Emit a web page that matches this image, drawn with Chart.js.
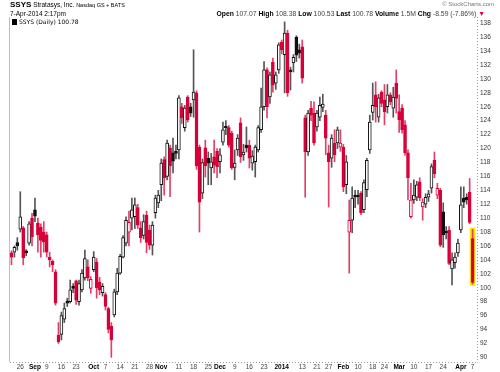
<!DOCTYPE html>
<html>
<head>
<meta charset="utf-8">
<script src="https://cdn.jsdelivr.net/npm/chart.js@4.4.0/dist/chart.umd.min.js"></script>
<style>
  body { margin: 0; background: #fff; }
  #wrap { position: relative; width: 500px; height: 372px; font-family: "Liberation Sans", Arial, sans-serif; }
  #wrap canvas { position: absolute; left: 0; top: 0; }
  .t { position: absolute; white-space: nowrap; color: #000; line-height: 1; }
</style>
</head>
<body>
<div id="wrap">
  <canvas id="chart" width="500" height="372"></canvas>
  <div class="t" style="left:10px;top:1px;font-size:6.5px"><b style="font-size:8px">SSYS</b> Stratasys, Inc. <span style="font-size:5.5px">Nasdaq GS + BATS</span></div>
  <div class="t" style="left:10px;top:11px;font-size:6.5px">7-Apr-2014 2:17pm</div>
  <div class="t" style="right:6px;top:1px;font-size:6px;color:#777">&copy; StockCharts.com</div>
  <div class="t" style="right:15px;top:11px;font-size:6.8px;color:#444"><b style="color:#000">Open</b> 107.07 <b style="color:#000">High</b> 108.38 <b style="color:#000">Low</b> 100.53 <b style="color:#000">Last</b> 100.78 <b style="color:#000">Volume</b> 1.5M <b style="color:#000">Chg</b> -8.59 (-7.86%) <span style="color:#d8003a">&#9660;</span></div>
  <div class="t" style="left:12px;top:19px;font-size:6px;font-family:'DejaVu Sans',sans-serif"><span style="display:inline-block;width:3px;height:4px;border:1px solid #000;background:#000;vertical-align:-1px"></span> SSYS (Daily) 100.78</div>
</div>
<script>
// trading days shown on the chart
const dates = [
  '2013-08-21','2013-08-22','2013-08-23','2013-08-26','2013-08-27','2013-08-28','2013-08-29','2013-08-30',
  '2013-09-03','2013-09-04','2013-09-05','2013-09-06','2013-09-09','2013-09-10','2013-09-11','2013-09-12','2013-09-13',
  '2013-09-16','2013-09-17','2013-09-18','2013-09-19','2013-09-20','2013-09-23','2013-09-24','2013-09-25','2013-09-26','2013-09-27','2013-09-30',
  '2013-10-01','2013-10-02','2013-10-03','2013-10-04','2013-10-07','2013-10-08','2013-10-09','2013-10-10','2013-10-11',
  '2013-10-14','2013-10-15','2013-10-16','2013-10-17','2013-10-18','2013-10-21','2013-10-22','2013-10-23','2013-10-24','2013-10-25',
  '2013-10-28','2013-10-29','2013-10-30','2013-10-31',
  '2013-11-01','2013-11-04','2013-11-05','2013-11-06','2013-11-07','2013-11-08','2013-11-11','2013-11-12','2013-11-13','2013-11-14','2013-11-15',
  '2013-11-18','2013-11-19','2013-11-20','2013-11-21','2013-11-22','2013-11-25','2013-11-26','2013-11-27','2013-11-29',
  '2013-12-02','2013-12-03','2013-12-04','2013-12-05','2013-12-06','2013-12-09','2013-12-10','2013-12-11','2013-12-12','2013-12-13',
  '2013-12-16','2013-12-17','2013-12-18','2013-12-19','2013-12-20','2013-12-23','2013-12-24','2013-12-26','2013-12-27','2013-12-30','2013-12-31',
  '2014-01-02','2014-01-03','2014-01-06','2014-01-07','2014-01-08','2014-01-09','2014-01-10','2014-01-13','2014-01-14','2014-01-15','2014-01-16','2014-01-17',
  '2014-01-21','2014-01-22','2014-01-23','2014-01-24','2014-01-27','2014-01-28','2014-01-29','2014-01-30','2014-01-31',
  '2014-02-03','2014-02-04','2014-02-05','2014-02-06','2014-02-07','2014-02-10','2014-02-11','2014-02-12','2014-02-13','2014-02-14',
  '2014-02-18','2014-02-19','2014-02-20','2014-02-21','2014-02-24','2014-02-25','2014-02-26','2014-02-27','2014-02-28',
  '2014-03-03','2014-03-04','2014-03-05','2014-03-06','2014-03-07','2014-03-10','2014-03-11','2014-03-12','2014-03-13','2014-03-14',
  '2014-03-17','2014-03-18','2014-03-19','2014-03-20','2014-03-21','2014-03-24','2014-03-25','2014-03-26','2014-03-27','2014-03-28','2014-03-31',
  '2014-04-01','2014-04-02','2014-04-03','2014-04-04','2014-04-07'
];

const opens = [
  105.0,105.1,106.5,108.4,108.6,105.3,106.4,110.0,
  111.2,109.3,108.7,108.0,107.6,104.4,103.8,102.3,93.2,93.3,95.5,98.1,98.0,100.2,101.0,98.0,99.7,101.4,103.0,99.9,
  102.6,103.7,100.8,99.3,99.0,97.0,94.5,96.1,99.4,102.1,104.4,106.4,108.0,110.0,110.2,111.5,108.6,107.5,110.4,108.3,106.1,110.8,112.2,
  114.8,118.4,116.0,120.1,119.4,119.6,119.8,126.0,123.0,127.4,126.0,127.0,128.0,120.2,113.6,120.1,118.6,117.2,118.8,119.6,
  118.1,120.9,123.2,123.0,122.2,117.3,119.8,123.7,119.1,120.5,120.5,117.9,118.1,119.8,122.7,126.0,131.3,127.4,132.4,129.4,131.3,
  135.3,133.5,136.6,131.3,132.3,136.0,134.2,134.6,124.4,119.5,125.8,125.1,123.1,124.5,125.9,124.8,119.4,118.6,120.8,120.8,120.2,
  120.2,114.8,108.0,109.7,113.3,113.3,113.6,111.2,114.1,119.8,125.2,127.7,124.5,128.1,127.0,126.0,127.7,125.8,129.4,
  125.3,125.8,123.4,119.4,110.2,112.6,113.0,115.2,111.6,112.0,113.0,114.3,118.3,113.3,114.0,110.9,108.1,108.3,102.7,103.6,105.0,
  108.3,112.9,113.0,113.7,107.07
];
const highs = [
  105.3,106.0,107.2,113.8,108.8,105.5,109.5,110.7,
  112.9,110.0,109.2,109.5,108.0,105.1,104.0,102.6,95.0,96.5,97.8,98.5,101.1,100.6,101.1,101.1,102.6,105.4,104.0,101.6,
  105.2,104.2,101.5,100.6,99.3,97.2,95.0,99.8,102.8,104.8,107.5,110.2,111.0,112.9,112.9,112.0,109.5,110.5,111.0,109.0,109.5,113.3,114.0,
  118.5,118.8,121.2,120.5,121.5,120.5,127.6,126.5,126.2,127.6,126.5,134.2,128.3,120.5,118.5,121.2,119.5,119.3,121.2,120.0,
  120.0,123.8,124.0,123.3,122.5,119.8,122.0,124.4,120.6,123.1,121.2,119.7,120.5,123.3,128.7,132.5,131.6,131.0,133.0,131.0,135.2,
  135.6,138.2,137.0,131.7,133.5,136.2,135.0,135.6,124.8,125.5,126.8,126.7,125.5,127.4,127.8,125.5,120.5,122.0,122.7,123.1,122.7,
  120.6,119.0,112.6,114.5,114.0,114.0,113.8,115.5,118.6,124.8,129.4,129.6,127.8,128.3,129.2,129.2,128.0,128.8,131.3,
  127.7,126.3,124.0,119.8,115.0,115.5,115.3,115.8,112.8,113.5,114.0,117.8,119.5,115.0,114.3,112.2,108.8,108.8,105.0,105.0,107.0,
  114.5,114.5,113.5,115.7,108.38
];
const lows = [
  103.3,104.4,105.4,108.0,103.3,104.6,106.1,106.0,
  109.5,105.1,104.4,105.1,104.4,103.0,102.3,97.5,92.0,92.5,95.0,97.3,97.8,99.3,97.6,97.5,99.4,101.1,101.0,99.2,
  102.3,98.5,99.0,98.8,96.8,93.5,90.0,95.8,99.0,101.9,104.3,106.0,106.0,108.3,108.5,108.5,106.5,107.0,105.0,105.5,104.7,110.0,111.5,
  112.5,113.3,115.5,113.1,116.5,118.5,118.5,123.6,122.5,123.8,124.6,124.5,117.0,108.0,112.8,115.9,114.8,114.8,116.5,115.8,
  116.5,120.5,122.0,120.2,117.0,115.5,119.0,118.0,118.3,119.5,117.2,116.9,115.9,119.5,122.3,125.5,124.4,126.5,128.1,128.5,130.8,
  133.6,128.0,127.5,128.4,131.0,132.5,133.0,129.4,113.0,119.0,124.0,120.5,122.5,124.0,125.3,119.1,111.6,117.3,118.1,120.0,119.6,
  113.8,113.5,102.1,107.9,111.5,112.0,110.5,110.8,113.1,119.3,124.1,123.8,123.8,126.0,123.4,125.1,126.3,124.5,125.1,
  122.3,122.2,119.0,112.6,110.0,112.1,112.5,112.5,109.7,111.5,112.4,113.6,115.8,112.8,105.9,105.8,107.0,103.3,100.4,102.8,104.5,
  107.9,111.5,112.0,109.2,100.53
];
const closes = [
  104.4,105.8,106.0,110.2,104.3,105.0,109.2,107.3,
  110.3,107.6,106.8,106.6,105.1,104.0,103.3,97.8,92.2,96.0,97.0,97.8,99.7,99.9,98.2,100.6,102.1,104.2,101.4,101.2,
  104.4,100.0,99.7,100.2,97.3,94.0,92.5,99.4,102.1,104.5,107.2,109.7,109.4,111.2,111.9,109.0,107.2,109.5,106.5,106.1,109.0,112.9,113.3,
  117.9,115.8,120.8,117.5,118.2,119.3,127.3,124.4,125.8,124.1,125.1,128.1,117.5,112.3,118.0,117.5,117.9,118.1,117.6,117.4,
  119.1,122.7,123.0,120.5,117.2,117.9,121.5,118.8,119.5,120.1,118.6,118.9,120.2,123.0,126.0,131.3,126.0,130.6,129.1,130.6,134.9,
  134.2,136.6,128.0,131.0,133.1,133.4,133.7,130.1,119.5,125.1,124.8,120.8,125.1,126.2,126.4,121.5,118.1,121.5,119.1,122.7,120.8,
  114.5,118.1,109.7,112.9,113.0,113.1,110.8,115.1,118.3,123.8,126.2,126.0,127.3,126.5,125.3,127.7,126.7,127.4,127.2,
  124.1,122.7,119.4,115.8,112.6,113.3,114.8,112.9,112.3,113.0,113.5,117.4,116.4,114.3,106.1,107.6,107.9,103.5,104.0,104.4,106.4,
  111.9,112.3,112.6,109.37,100.78
];
const prevCloseBeforeFirst = 105.6;

// x axis labels (date -> text), bold ones are month / year marks
const tickDates = ['2013-08-26','2013-09-03','2013-09-09','2013-09-16','2013-09-23','2013-10-01','2013-10-07','2013-10-14','2013-10-21','2013-10-28',
  '2013-11-01','2013-11-11','2013-11-18','2013-11-25','2013-12-02','2013-12-09','2013-12-16','2013-12-23','2014-01-02','2014-01-13','2014-01-21','2014-01-27',
  '2014-02-03','2014-02-10','2014-02-18','2014-02-24','2014-03-03','2014-03-10','2014-03-17','2014-03-24','2014-04-01','2014-04-07'];
const tickTexts = ['26','Sep','9','16','23','Oct','7','14','21','28',
  'Nov','11','18','25','Dec','9','16','23','2014','13','21','27',
  'Feb','10','18','24','Mar','10','17','24','Apr','7'];
const boldTicks = ['Sep','Oct','Nov','Dec','2014','Feb','Mar','Apr'];
const yTicks = [90,92,94,96,98,100,102,104,106,108,110,112,114,116,118,120,122,124,126,128,130,132,134,136,138];

const RED = '#d8003a';
const BLACK = '#111111';

// candle colours: black when up from previous close, red when down; hollow when close > open
const bodyFill = [], bodyLine = [], wickColor = [];
closes.forEach((c, i) => {
  const prev = i === 0 ? prevCloseBeforeFirst : closes[i - 1];
  const col = c >= prev ? BLACK : RED;
  bodyLine.push(col);
  bodyFill.push(c < opens[i] ? col : '#ffffff');
  wickColor.push(c >= prev ? '#555555' : '#e2406a');
});

const last = closes.length - 1;
const labels = dates.concat(['']);   // small blank slot at the right edge

const tickMap = {};
tickDates.forEach((d, i) => tickMap[d] = tickTexts[i]);

const framePlugin = {
  id: 'frame',
  beforeDatasetsDraw(chart) {
    const { ctx, chartArea: a } = chart;
    ctx.save();
    ctx.strokeStyle = '#bdbdbd';
    ctx.lineWidth = 1;
    ctx.beginPath();
    ctx.moveTo(a.left - 0.5, a.top);
    ctx.lineTo(a.left - 0.5, a.bottom);
    ctx.stroke();
    ctx.setLineDash([1, 2]);
    ctx.strokeStyle = '#999';
    ctx.beginPath();
    ctx.moveTo(a.right + 0.5, a.top);
    ctx.lineTo(a.right + 0.5, a.bottom + 0.5);
    ctx.moveTo(a.left, a.bottom + 0.5);
    ctx.lineTo(a.right, a.bottom + 0.5);
    ctx.stroke();
    ctx.restore();
  }
};

new Chart(document.getElementById('chart').getContext('2d'), {
  type: 'bar',
  data: {
    labels: labels,
    datasets: [
      {
        label: 'highlight',
        data: closes.map((c, i) => i === last ? [lows[i] - 0.2, highs[i] + 0.2] : null),
        backgroundColor: '#ffe400',
        barThickness: 5,
        grouped: false,
        order: 3
      },
      {
        label: 'range',
        data: closes.map((c, i) => [lows[i], highs[i]]),
        backgroundColor: wickColor,
        barThickness: 1,
        grouped: false,
        order: 2
      },
      {
        label: 'SSYS',
        data: closes.map((c, i) => [opens[i], c]),
        backgroundColor: bodyFill,
        borderColor: bodyLine,
        borderWidth: 1,
        borderSkipped: false,
        barThickness: 3,
        minBarLength: 1,
        grouped: false,
        order: 1
      }
    ]
  },
  options: {
    responsive: false,
    devicePixelRatio: 1,
    animation: false,
    layout: { padding: { left: 10, top: 17, right: 0, bottom: 0 } },
    plugins: { legend: { display: false }, tooltip: { enabled: false } },
    scales: {
      x: {
        type: 'category',
        offset: true,
        grid: { display: false, drawTicks: false },
        border: { display: false },
        afterFit: s => { s.height = 10; },
        ticks: {
          autoSkip: false,
          maxRotation: 0,
          minRotation: 0,
          padding: 1,
          callback: function (value, index) { return tickMap[labels[index]] || ''; },
          font: ctx => ({ family: 'Liberation Sans, Arial, sans-serif', size: 6.5,
                          weight: boldTicks.includes(ctx.tick && ctx.tick.label) ? 'bold' : 'normal' }),
          color: ctx => boldTicks.includes(ctx.tick && ctx.tick.label) ? '#000' : '#444'
        }
      },
      y: {
        position: 'right',
        min: 89.33,
        max: 138.9,
        grid: { display: false, drawTicks: false },
        border: { display: false },
        afterFit: s => { s.width = 23; },
        afterBuildTicks: s => { s.ticks = yTicks.map(v => ({ value: v })); },
        ticks: {
          padding: 3,
          color: '#333',
          font: { family: 'Liberation Sans, Arial, sans-serif', size: 6.5 }
        }
      }
    }
  },
  plugins: [framePlugin]
});
</script>
</body>
</html>
